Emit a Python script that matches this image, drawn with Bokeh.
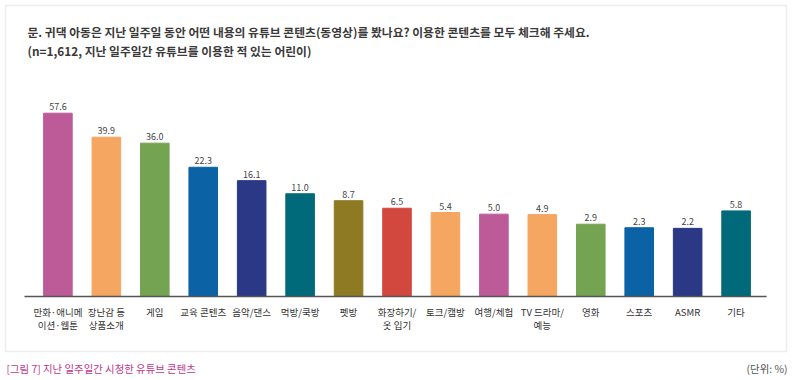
from bokeh.plotting import figure
from bokeh.models import (ColumnDataSource, FactorRange, Range1d, Label, BoxAnnotation,
                          CustomJSTransform)
from bokeh.transform import transform
from bokeh.core.properties import value
from bokeh.embed import file_html
from bokeh.resources import INLINE

# ---- data ----
categories = ["만화·애니메\n이션·웹툰", "장난감 등\n상품소개", "게임", "교육 콘텐츠", "음악/댄스",
              "먹방/쿡방", "펫방", "화장하기/\n옷 입기", "토크/캠방", "여행/체험",
              "TV 드라마/\n예능", "영화", "스포츠", "ASMR", "기타"]
values = [57.6, 39.9, 36.0, 22.3, 16.1, 11.0, 8.7, 6.5, 5.4, 5.0, 4.9, 2.9, 2.3, 2.2, 5.8]
colors = ["#bd5b98", "#f5a762", "#74a451", "#0b63a6", "#2a3886", "#00697a", "#8f7a24",
          "#d2483f", "#f5a762", "#bd5b98", "#f5a762", "#74a451", "#0b63a6", "#2a3886", "#00697a"]
title1 = "문. 귀댁 아동은 지난 일주일 동안 어떤 내용의 유튜브 콘텐츠(동영상)를 봤나요? 이용한 콘텐츠를 모두 체크해 주세요."
title2 = "(n=1,612, 지난 일주일간 유튜브를 이용한 적 있는 어린이)"
caption = "[그림 7] 지난 일주일간 시청한 유튜브 콘텐츠"
unit = "(단위: %)"

KR = "Noto Sans CJK KR"

src = ColumnDataSource(dict(cat=categories, val=values, color=colors,
                            lbl=[f"{v:.1f}" for v in values],
                            zero=[0] * len(values)))

# the original chart uses a compressed (square-root like) bar scale
scale_t = CustomJSTransform(v_func="return xs.map(x => Math.sqrt(x) + 2.13)")

p = figure(width=793, height=380, output_backend="svg", toolbar_location=None,
           x_range=FactorRange(*categories, range_padding=0.685, range_padding_units="absolute"),
           y_range=Range1d(-4.454, 15.695), x_axis_location=None, y_axis_location=None,
           min_border=0)
p.background_fill_color = "white"
p.border_fill_color = "white"
p.outline_line_color = None
p.grid.visible = False

# outer box
p.add_layout(BoxAnnotation(left=5, right=786, top=375, bottom=29,
                           left_units="screen", right_units="screen",
                           top_units="screen", bottom_units="screen",
                           fill_alpha=0, line_color="#c2c2c2", line_width=1.5,
                           level="underlay"))

p.vbar(x="cat", top=transform("val", scale_t), width=0.59, color="color", source=src)
p.text(x="cat", y=transform("val", scale_t), text="lbl", source=src,
       text_align="center", text_baseline="bottom", y_offset=-3,
       text_font=value(KR), text_font_size="9px", text_color="#444444")

# baseline (category axis line)
p.segment(x0=[-0.19], x1=[len(categories) + 0.13], y0=[0], y1=[0],
          line_color="#555555", line_width=1.5)
# category labels
p.text(x="cat", y="zero", text="cat", source=src, text_align="center",
       text_baseline="top", y_offset=9, text_line_height=0.86,
       text_font=value(KR), text_font_size="9.5px", text_color="#333333")

p.add_layout(Label(x=27, y=349, x_units="screen", y_units="screen", text=title1,
                   text_font=KR, text_font_size="11.8px", text_font_style="bold",
                   text_color="#3a3a3a", text_baseline="middle"))
p.add_layout(Label(x=27, y=330, x_units="screen", y_units="screen", text=title2,
                   text_font=KR, text_font_size="11.8px", text_font_style="bold",
                   text_color="#3a3a3a", text_baseline="middle"))
p.add_layout(Label(x=6, y=12, x_units="screen", y_units="screen", text=caption,
                   text_font=KR, text_font_size="10.4px",
                   text_color="#c1388a", text_baseline="middle"))
p.add_layout(Label(x=787, y=12, x_units="screen", y_units="screen", text=unit,
                   text_font=KR, text_font_size="10.4px", text_align="right",
                   text_color="#555555", text_baseline="middle"))

open("out.html", "w").write(file_html(p, INLINE))
